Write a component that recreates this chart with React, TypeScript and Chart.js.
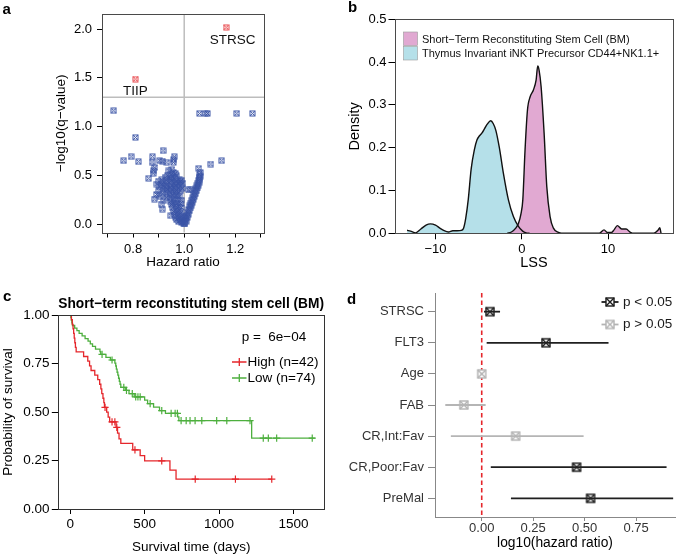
import React, { useEffect, useRef } from "react";
import { Chart, registerables } from "chart.js";

Chart.register(...registerables);

const FONT = '"Liberation Sans", Arial, Helvetica, sans-serif';
Chart.defaults.font.family = FONT;
Chart.defaults.color = "#000";

// ---------------- Panel a : volcano ----------------
const hazardRatio = [
  0.952, 0.94, 0.958, 0.965, 0.948, 0.935, 0.97, 0.925, 0.955, 0.945, 0.962, 0.98, 0.99, 0.912, 0.93, 0.95, 0.97, 0.985,
  0.9, 0.92, 0.94, 0.96, 0.975, 0.995, 0.893, 0.91, 0.93, 0.95, 0.965, 0.985, 0.905, 0.925, 0.945, 0.96, 0.978, 0.992,
  0.918, 0.935, 0.952, 0.97, 0.985, 0.9, 0.928, 0.945, 0.962, 0.975, 0.915, 0.94, 0.955, 0.968, 0.982, 0.905, 0.93,
  0.948, 0.96, 0.975, 0.99, 0.92, 0.945, 0.958, 0.97, 0.985, 0.95, 0.965, 0.978, 0.99, 0.955, 0.968, 0.982, 0.958,
  0.972, 0.986, 0.962, 0.976, 0.99, 0.948, 0.966, 0.98, 0.992, 0.97, 0.985, 0.995, 0.99, 0.998, 1.0, 0.978,
  0.876, 0.874, 0.917, 0.904, 0.914, 0.932, 0.961, 0.958, 0.958, 0.861, 0.88, 0.878, 0.884, 0.91, 0.914, 0.891, 0.885,
  1.003, 1.008, 1.006, 1.012, 1.01, 1.016, 1.014, 1.02, 1.018, 1.024, 1.022, 1.028, 1.026, 1.032, 1.03, 1.036, 1.034,
  1.04, 1.038, 1.044, 1.042, 1.048, 1.046, 1.052, 1.05, 1.055, 1.053, 1.058, 1.056, 1.06, 1.058, 1.062, 1.06, 1.057,
  1.063, 1.017, 1.026, 1.004, 1.002,
  0.724, 1.06, 1.082, 1.091, 1.206, 1.267, 0.809, 0.763, 0.792, 0.821, 1.104, 1.147,
];
const negLog10Q = [
  0.56, 0.545, 0.53, 0.52, 0.505, 0.5, 0.495, 0.48, 0.48, 0.47, 0.47, 0.46, 0.45, 0.455, 0.45, 0.445, 0.44, 0.435,
  0.44, 0.43, 0.425, 0.42, 0.415, 0.42, 0.41, 0.405, 0.4, 0.4, 0.395, 0.39, 0.385, 0.38, 0.375, 0.37, 0.37, 0.365,
  0.36, 0.355, 0.35, 0.345, 0.34, 0.34, 0.33, 0.325, 0.32, 0.315, 0.31, 0.3, 0.295, 0.29, 0.285, 0.28, 0.27,
  0.265, 0.255, 0.25, 0.245, 0.245, 0.235, 0.225, 0.215, 0.21, 0.2, 0.19, 0.18, 0.17, 0.165, 0.15, 0.14, 0.13,
  0.12, 0.11, 0.1, 0.09, 0.08, 0.085, 0.07, 0.06, 0.05, 0.045, 0.035, 0.025, 0.015, 0.008, 0.002, 0.025,
  0.69, 0.636, 0.752, 0.649, 0.646, 0.633, 0.69, 0.633, 0.66, 0.469, 0.547, 0.52, 0.256, 0.205, 0.154, 0.304, 0.58,
  0.01, 0.03, 0.055, 0.07, 0.09, 0.1, 0.12, 0.135, 0.15, 0.165, 0.185, 0.195, 0.215, 0.225, 0.245, 0.255, 0.27,
  0.285, 0.3, 0.31, 0.33, 0.34, 0.36, 0.37, 0.39, 0.4, 0.42, 0.43, 0.45, 0.46, 0.48, 0.49, 0.51, 0.571,
  0.53, 0.349, 0.356, 0.04, 0.075,
  1.162, 1.135, 1.135, 1.135, 1.135, 1.135, 0.889, 0.649, 0.69, 0.639, 0.615, 0.649,
];
const highlightNames = ["STRSC", "TIIP"];
const highlightHR = [1.164, 0.809];
const highlightQ = [2.017, 1.487];
const qCutoff = 0.05;
const hrNull = 1;
const hrTicks = [0.7, 0.8, 0.9, 1.0, 1.1, 1.2, 1.3];
const hrLabelledTicks = [0.8, 1.0, 1.2];
const qTicks = [0, 0.5, 1.0, 1.5, 2.0];

// ---------------- Panel b : LSS densities ----------------
const densityNames = ["Short\u2212Term Reconstituting Stem Cell (BM)", "Thymus Invariant iNKT Precursor CD44+NK1.1+"];
const strscLSS = [-1.7, -1.2, -0.7, -0.39, -0.1, 0.12, 0.38, 0.66, 0.97, 1.35, 1.66, 1.85, 2.0, 2.24, 2.59, 2.9, 3.28, 3.67, 4.25, 4.6, 9.0, 9.54, 9.92, 10.4, 10.7, 11.08, 11.58, 12.1, 12.55, 13.0, 15.3, 15.83, 16.0, 16.15];
const strscDensity = [0, 0.003, 0.012, 0.023, 0.045, 0.078, 0.195, 0.288, 0.319, 0.335, 0.358, 0.391, 0.382, 0.343, 0.234, 0.109, 0.039, 0.012, 0.002, 0, 0, 0.008, 0.002, 0.002, 0.008, 0.018, 0.01, 0.01, 0.003, 0, 0, 0.008, 0.013, 0];
const tiipLSS = [-13.3, -12.9, -12.3, -11.7, -11.1, -10.6, -10.0, -9.5, -9.0, -8.5, -8.0, -7.5, -7.0, -6.75, -6.5, -6.2, -5.87, -5.5, -5.2, -4.9, -4.63, -4.3, -4.0, -3.6, -3.3, -3.0, -2.6, -2.13, -1.55, -0.97, -0.39, 0.1, 0.5, 0.9];
const tiipDensity = [0.007, 0.005, 0.001, 0.01, 0.019, 0.022, 0.019, 0.012, 0.006, 0.003, 0.006, 0.006, 0.007, 0.012, 0.035, 0.08, 0.15, 0.195, 0.218, 0.228, 0.234, 0.245, 0.255, 0.263, 0.256, 0.24, 0.2, 0.14, 0.078, 0.039, 0.016, 0.005, 0.001, 0];
const lssTicks = [-10, 0, 10];
const densityTicks = [0, 0.1, 0.2, 0.3, 0.4, 0.5];

// ---------------- Panel c : Kaplan-Meier ----------------
const kmTitle = "Short\u2212term reconstituting stem cell (BM)";
const kmPValue = "p =  6e\u221204";
const kmGroups = ["High (n=42)", "Low (n=74)"];
const highTimes = [0, 8, 14, 19, 23, 27, 31, 35, 40, 90, 118, 130, 140, 165, 185, 198, 206, 212, 220, 226, 230, 245, 255, 265, 308, 318, 328, 340, 420, 470, 500, 670, 711, 1354];
const highSurv = [1, 0.976, 0.952, 0.929, 0.905, 0.881, 0.857, 0.833, 0.81, 0.786, 0.762, 0.738, 0.714, 0.69, 0.667, 0.643, 0.619, 0.595, 0.571, 0.548, 0.524, 0.499, 0.474, 0.449, 0.421, 0.391, 0.361, 0.338, 0.305, 0.275, 0.248, 0.2, 0.154, 0.154];
const highCensor = [234, 281, 300, 313, 435, 615, 840, 1110, 1354];
const lowTimes = [0, 4, 8, 11, 15, 30, 45, 60, 80, 100, 120, 135, 150, 170, 200, 205, 240, 270, 300, 306, 310, 315, 320, 325, 330, 335, 340, 370, 395, 430, 500, 520, 560, 600, 640, 722, 730, 1219, 1644];
const lowSurv = [1, 0.986, 0.973, 0.959, 0.946, 0.932, 0.919, 0.905, 0.892, 0.878, 0.865, 0.851, 0.838, 0.824, 0.811, 0.797, 0.782, 0.768, 0.752, 0.737, 0.721, 0.705, 0.69, 0.674, 0.658, 0.643, 0.627, 0.611, 0.595, 0.578, 0.561, 0.543, 0.525, 0.507, 0.493, 0.475, 0.456, 0.365, 0.365];
const lowCensor = [214, 281, 360, 378, 417, 440, 455, 470, 537, 615, 678, 705, 720, 745, 779, 805, 839, 884, 984, 1052, 1208, 1297, 1331, 1387, 1626];
const timeTicks = [0, 500, 1000, 1500];
const probTicks = [0, 0.25, 0.5, 0.75, 1.0];

// ---------------- Panel d : forest plot ----------------
const covariates = ["STRSC", "FLT3", "Age", "FAB", "CR,Int:Fav", "CR,Poor:Fav", "PreMal"];
const log10HR = [0.04, 0.312, 0.0, -0.087, 0.165, 0.461, 0.529];
const ciLow = [0.011, 0.024, -0.005, -0.177, -0.15, 0.044, 0.142];
const ciHigh = [0.089, 0.616, 0.005, 0.019, 0.495, 0.898, 0.93];
const significant = [true, true, false, false, false, true, true];
const sigLegend = ["p < 0.05", "p > 0.05"];
const log10HRTicks = [0, 0.25, 0.5, 0.75];

// ---------------- helpers ----------------
const RED = "#E5262B";
const GREEN = "#4DAF3E";
const BLUE = "#3A54A6";

function makeMarker(size: number, color: string, lw: number, fill?: string): HTMLCanvasElement {
  const pad = Math.ceil(lw);
  const c = document.createElement("canvas");
  c.width = size + pad * 2;
  c.height = size + pad * 2;
  const g = c.getContext("2d")!;
  const o = pad;
  if (fill) {
    g.fillStyle = fill;
    g.fillRect(o, o, size, size);
  }
  g.strokeStyle = color;
  g.lineWidth = lw;
  g.strokeRect(o, o, size, size);
  g.beginPath();
  g.moveTo(o, o);
  g.lineTo(o + size, o + size);
  g.moveTo(o + size, o);
  g.lineTo(o, o + size);
  g.stroke();
  return c;
}

function survAt(times: number[], surv: number[], t: number) {
  let s = surv[0];
  for (let i = 0; i < times.length; i++) if (times[i] <= t) s = surv[i];
  return s;
}

const setTicks = (vals: number[]) => (axis: any) => {
  axis.ticks = vals.map((v) => ({ value: v }));
};

function drawBox(chart: any, color = "#4a4a4a") {
  const { ctx, chartArea: a } = chart;
  ctx.save();
  ctx.strokeStyle = color;
  ctx.lineWidth = 1;
  ctx.strokeRect(Math.round(a.left) + 0.5, Math.round(a.top) + 0.5, Math.round(a.right - a.left), Math.round(a.bottom - a.top));
  ctx.restore();
}

function drawLetter(chart: any, letter: string, x: number, y: number) {
  const ctx = chart.ctx;
  ctx.save();
  ctx.font = `bold 15px ${FONT}`;
  ctx.fillStyle = "#000";
  ctx.textAlign = "left";
  ctx.textBaseline = "alphabetic";
  ctx.fillText(letter, x, y);
  ctx.restore();
}

function axisGrid(color: string, len: number) {
  return { display: true, drawOnChartArea: false, drawTicks: true, tickLength: len, color, lineWidth: 1 };
}

// ---------------- configs ----------------
function configA(): any {
  const blue = makeMarker(5, BLUE, 1);
  const red = makeMarker(5, "#E8464B", 1);
  const plugin = {
    id: "panelA",
    beforeDatasetsDraw(chart: any) {
      const { ctx, chartArea: a, scales } = chart;
      const px = scales.x.getPixelForValue(hrNull);
      const py = scales.y.getPixelForValue(-Math.log10(qCutoff));
      ctx.save();
      ctx.strokeStyle = "#BDBDBD";
      ctx.lineWidth = 1.5;
      ctx.beginPath();
      ctx.moveTo(px, a.top);
      ctx.lineTo(px, a.bottom);
      ctx.moveTo(a.left, py);
      ctx.lineTo(a.right, py);
      ctx.stroke();
      ctx.restore();
    },
    afterDatasetsDraw(chart: any) {
      const { ctx, scales } = chart;
      drawBox(chart);
      const offs = [[6.5, 13], [0, 12]];
      ctx.save();
      ctx.font = `13.5px ${FONT}`;
      ctx.fillStyle = "#111";
      ctx.textAlign = "center";
      ctx.textBaseline = "middle";
      highlightNames.forEach((n, i) => {
        ctx.fillText(n, scales.x.getPixelForValue(highlightHR[i]) + offs[i][0], scales.y.getPixelForValue(highlightQ[i]) + offs[i][1]);
      });
      ctx.restore();
      drawLetter(chart, "a", 2.5, 14);
    },
  };
  return {
    type: "scatter",
    data: {
      datasets: [
        { data: hazardRatio.map((x, i) => ({ x, y: negLog10Q[i] })), pointStyle: blue, pointRadius: 3 },
        { data: highlightHR.map((x, i) => ({ x, y: highlightQ[i] })), pointStyle: red, pointRadius: 3 },
      ],
    },
    options: {
      responsive: false,
      animation: false,
      layout: { padding: { left: 0, top: 14, right: 76, bottom: 0 }, autoPadding: false },
      plugins: { legend: { display: false }, tooltip: { enabled: false } },
      scales: {
        x: {
          type: "linear",
          min: 0.678,
          max: 1.3125,
          afterFit: (s: any) => { s.height = 47.5; },
          afterBuildTicks: setTicks(hrTicks),
          ticks: {
            autoSkip: false, maxRotation: 0, padding: 4,
            font: { size: 13 }, color: "#000",
            callback: (v: any) => (hrLabelledTicks.some((t) => Math.abs(t - Number(v)) < 1e-6) ? Number(v).toFixed(1) : ""),
          },
          grid: axisGrid("#000", 5),
          border: { display: false },
          title: { display: true, text: "Hazard ratio", font: { size: 13.5, lineHeight: 1 }, padding: { top: 0, bottom: 11 }, color: "#000" },
        },
        y: {
          type: "linear",
          min: -0.087,
          max: 2.154,
          afterFit: (s: any) => { s.width = 102; },
          afterBuildTicks: setTicks(qTicks),
          ticks: { padding: 5, font: { size: 13 }, color: "#000", callback: (v: any) => Number(v).toFixed(1) },
          grid: axisGrid("#000", 5),
          border: { display: false },
          title: { display: true, text: "\u2212log10(q\u2212value)", font: { size: 13.5, lineHeight: 1 }, padding: { top: 55, bottom: 0 }, color: "#000" },
        },
      },
    },
    plugins: [plugin],
  };
}

function configB(): any {
  const fills = ["rgba(222,160,205,0.9)", "rgba(168,219,229,0.85)"];
  const plugin = {
    id: "panelB",
    afterDatasetsDraw(chart: any) {
      const { ctx } = chart;
      drawBox(chart);
      ctx.save();
      ctx.font = `11px ${FONT}`;
      ctx.textAlign = "left";
      ctx.textBaseline = "middle";
      densityNames.forEach((n, i) => {
        const y0 = 32 + i * 14.5;
        ctx.fillStyle = fills[i];
        ctx.fillRect(63.5, y0, 14, 13.5);
        ctx.strokeStyle = "#9a9a9a";
        ctx.lineWidth = 0.6;
        ctx.strokeRect(63.5, y0, 14, 13.5);
        ctx.fillStyle = "#111";
        ctx.fillText(n, 82, y0 + 7.5);
      });
      ctx.restore();
      drawLetter(chart, "b", 8, 12);
    },
  };
  const ds = (xs: number[], ys: number[], c: string) => ({
    data: xs.map((x, i) => ({ x, y: ys[i] })),
    fill: "origin",
    backgroundColor: c,
    borderColor: "#111",
    borderWidth: 1.4,
    pointRadius: 0,
    cubicInterpolationMode: "monotone",
  });
  return {
    type: "line",
    data: { datasets: [ds(strscLSS, strscDensity, fills[0]), ds(tiipLSS, tiipDensity, fills[1])] },
    options: {
      responsive: false,
      animation: false,
      layout: { padding: { left: 0, top: 19.3, right: 12.3, bottom: 0 }, autoPadding: false },
      plugins: { legend: { display: false }, tooltip: { enabled: false }, filler: { drawTime: "beforeDatasetsDraw" } },
      scales: {
        x: {
          type: "linear",
          min: -14.7,
          max: 17.5,
          afterFit: (s: any) => { s.height = 46.7; },
          afterBuildTicks: setTicks(lssTicks),
          ticks: { autoSkip: false, maxRotation: 0, padding: 2, font: { size: 13 }, color: "#000", callback: (v: any) => String(v).replace("-", "\u2212") },
          grid: axisGrid("#000", 6),
          border: { display: false },
          title: { display: true, text: "LSS", font: { size: 14.5, lineHeight: 1 }, padding: { top: 0, bottom: 10 }, color: "#000" },
        },
        y: {
          type: "linear",
          min: 0,
          max: 0.5,
          afterFit: (s: any) => { s.width = 55; },
          afterBuildTicks: setTicks(densityTicks),
          ticks: { padding: 2, font: { size: 13 }, color: "#000", callback: (v: any) => Number(v).toFixed(1) },
          grid: axisGrid("#000", 6.5),
          border: { display: false },
          title: { display: true, text: "Density", font: { size: 14.5, lineHeight: 1 }, padding: { top: 8, bottom: 0 }, color: "#000" },
        },
      },
    },
    plugins: [plugin],
  };
}

function configC(): any {
  const plugin = {
    id: "panelC",
    afterDatasetsDraw(chart: any) {
      const { ctx } = chart;
      drawBox(chart, "#333");
      ctx.save();
      ctx.font = `13.5px ${FONT}`;
      ctx.fillStyle = "#000";
      ctx.textAlign = "left";
      ctx.textBaseline = "middle";
      ctx.fillText(kmPValue, 241.7, 57.5);
      const cols = [RED, GREEN];
      kmGroups.forEach((g, i) => {
        const y = 82 + i * 16;
        ctx.strokeStyle = cols[i];
        ctx.lineWidth = 1.3;
        ctx.beginPath();
        ctx.moveTo(232, y);
        ctx.lineTo(246.5, y);
        ctx.moveTo(239.3, y - 4);
        ctx.lineTo(239.3, y + 4);
        ctx.stroke();
        ctx.fillStyle = "#000";
        ctx.fillText(g, 247.5, y);
      });
      ctx.restore();
      drawLetter(chart, "c", 3, 21);
    },
  };
  const curve = (ts: number[], ss: number[], c: string) => ({
    type: "line",
    data: ts.map((x, i) => ({ x, y: ss[i] })),
    stepped: "before",
    borderColor: c,
    borderWidth: 1.3,
    pointRadius: 0,
    fill: false,
  });
  const marks = (cs: number[], ts: number[], ss: number[], c: string) => ({
    type: "scatter",
    data: cs.map((t) => ({ x: t, y: survAt(ts, ss, t) })),
    pointStyle: "cross",
    pointRadius: 3.6,
    borderColor: c,
    borderWidth: 1.2,
    backgroundColor: c,
  });
  return {
    type: "line",
    data: {
      datasets: [
        curve(highTimes, highSurv, RED),
        curve(lowTimes, lowSurv, GREEN),
        marks(highCensor, highTimes, highSurv, RED),
        marks(lowCensor, lowTimes, lowSurv, GREEN),
      ],
    },
    options: {
      responsive: false,
      animation: false,
      layout: { padding: { left: 0, top: 0, right: 16, bottom: 0 }, autoPadding: false },
      plugins: {
        legend: { display: false },
        tooltip: { enabled: false },
        title: { display: true, text: kmTitle, fullSize: false, font: { size: 14, weight: "bold" }, padding: { top: 15.6, bottom: 2.6 }, color: "#000" },
      },
      scales: {
        x: {
          type: "linear",
          min: -80,
          max: 1705,
          afterFit: (s: any) => { s.height = 45; },
          afterBuildTicks: setTicks(timeTicks),
          ticks: { autoSkip: false, maxRotation: 0, padding: 2.2, font: { size: 13.5 }, color: "#000", callback: (v: any) => String(v) },
          grid: axisGrid("#000", 5),
          border: { display: false },
          title: { display: true, text: "Survival time (days)", font: { size: 13.5, lineHeight: 1 }, padding: { top: 0, bottom: 0.3 }, color: "#000" },
        },
        y: {
          type: "linear",
          min: 0,
          max: 1,
          afterFit: (s: any) => { s.width = 58.3; },
          afterBuildTicks: setTicks(probTicks),
          ticks: { padding: 2.4, font: { size: 13.5 }, color: "#000", callback: (v: any) => Number(v).toFixed(2) },
          grid: axisGrid("#000", 6.5),
          border: { display: false },
          title: { display: true, text: "Probability of survival", font: { size: 13.5, lineHeight: 1 }, padding: { top: 1.3, bottom: 0 }, color: "#000" },
        },
      },
    },
    plugins: [plugin],
  };
}

function configD(): any {
  const black = makeMarker(8, "#1a1a1a", 1.4, "#fff");
  const gray = makeMarker(8, "#B3B3B3", 1.4, "#fff");
  const plugin = {
    id: "panelD",
    beforeDatasetsDraw(chart: any) {
      const { ctx, chartArea: a, scales } = chart;
      const px = scales.x.getPixelForValue(0);
      ctx.save();
      ctx.strokeStyle = "#E5262B";
      ctx.lineWidth = 1.6;
      ctx.setLineDash([4.5, 3]);
      ctx.beginPath();
      ctx.moveTo(px, a.top);
      ctx.lineTo(px, a.bottom);
      ctx.stroke();
      ctx.restore();
    },
    afterDatasetsDraw(chart: any) {
      const { ctx } = chart;
      ctx.save();
      ctx.font = `13.5px ${FONT}`;
      ctx.textAlign = "left";
      ctx.textBaseline = "middle";
      sigLegend.forEach((t, i) => {
        const y = 22 + i * 22.5;
        ctx.strokeStyle = i === 0 ? "#1a1a1a" : "#B3B3B3";
        ctx.lineWidth = 1.8;
        ctx.beginPath();
        ctx.moveTo(261.5, y);
        ctx.lineTo(278.5, y);
        ctx.stroke();
        const m = i === 0 ? black : gray;
        ctx.drawImage(m, 270 - m.width / 2, y - m.height / 2);
        ctx.fillStyle = "#1a1a1a";
        ctx.fillText(t, 283, y);
      });
      ctx.restore();
      drawLetter(chart, "d", 7, 24);
    },
  };
  const bars = covariates.map((_, i) => ({
    type: "line",
    data: [{ x: ciLow[i], y: i + 1 }, { x: ciHigh[i], y: i + 1 }],
    borderColor: significant[i] ? "#1f1f1f" : "#B5B5B5",
    borderWidth: 1.8,
    pointRadius: 0,
    fill: false,
  }));
  const pts = (sig: boolean) => ({
    type: "scatter",
    data: covariates.map((_, i) => ({ x: log10HR[i], y: i + 1, s: significant[i] })).filter((p) => p.s === sig).map((p) => ({ x: p.x, y: p.y })),
    pointStyle: sig ? black : gray,
    pointRadius: 4,
  });
  return {
    type: "scatter",
    data: { datasets: [...bars, pts(false), pts(true)] },
    options: {
      responsive: false,
      animation: false,
      layout: { padding: { left: 0, top: 13, right: 10, bottom: 0 }, autoPadding: false },
      plugins: { legend: { display: false }, tooltip: { enabled: false } },
      scales: {
        x: {
          type: "linear",
          min: -0.227,
          max: 0.939,
          afterFit: (s: any) => { s.height = 37; },
          afterBuildTicks: setTicks(log10HRTicks),
          ticks: { autoSkip: false, maxRotation: 0, padding: 0, font: { size: 13 }, color: "#333", callback: (v: any) => Number(v).toFixed(2) },
          grid: axisGrid("#888", 4),
          border: { display: true, color: "#888", width: 1 },
          title: { display: true, text: "log10(hazard ratio)", font: { size: 13.8, lineHeight: 1 }, padding: { top: 0, bottom: 4.4 }, color: "#000" },
        },
        y: {
          type: "linear",
          min: 0.4,
          max: 7.6,
          reverse: true,
          afterFit: (s: any) => { s.width = 95; },
          afterBuildTicks: setTicks(covariates.map((_, i) => i + 1)),
          ticks: { autoSkip: false, padding: 4, font: { size: 13 }, color: "#333", callback: (v: any) => covariates[Number(v) - 1] ?? "" },
          grid: axisGrid("#888", 7),
          border: { display: true, color: "#888", width: 1 },
        },
      },
    },
    plugins: [plugin],
  };
}

function ChartCanvas(props: { left: number; top: number; width: number; height: number; make: () => any }) {
  const ref = useRef<HTMLCanvasElement>(null);
  useEffect(() => {
    const chart = new Chart(ref.current as HTMLCanvasElement, props.make());
    return () => chart.destroy();
  }, []);
  return (
    <canvas
      ref={ref}
      width={props.width}
      height={props.height}
      style={{ position: "absolute", left: props.left, top: props.top, width: props.width, height: props.height, display: "block" }}
    />
  );
}

export default function App() {
  return (
    <div style={{ position: "fixed", left: 0, top: 0, width: 685, height: 554, background: "#fff", overflow: "hidden" }}>
      <ChartCanvas left={0} top={0} width={340} height={280} make={configA} />
      <ChartCanvas left={340} top={0} width={345} height={280} make={configB} />
      <ChartCanvas left={0} top={280} width={340} height={274} make={configC} />
      <ChartCanvas left={340} top={280} width={345} height={274} make={configD} />
    </div>
  );
}
